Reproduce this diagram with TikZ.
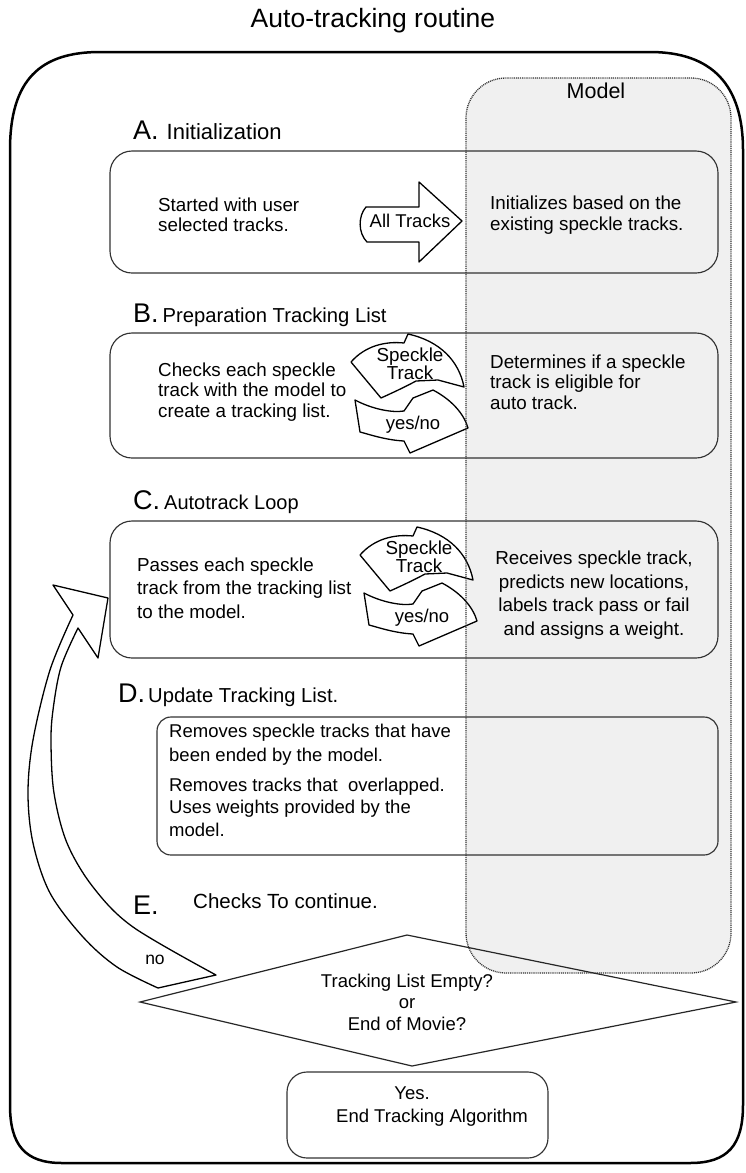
\documentclass[tikz,border=0pt]{standalone}
\usepackage{fontspec}
\setmainfont{Liberation Sans}
\begin{document}
\begin{tikzpicture}[x=1pt,y=-1pt,
  bx/.style={draw=black!80, line width=1.15pt, rounded corners=22pt, inner sep=0pt},
  blk/.style={draw=black, line width=1.3pt, fill=white, line join=round},
  body/.style={inner sep=0pt, anchor=west, align=left, font=\fontsize{18.8}{20.5}\selectfont},
  bodyc/.style={inner sep=0pt, align=center, font=\fontsize{18.8}{23.5}\selectfont},
  head/.style={inner sep=0pt, anchor=base west},
]
\useasboundingbox (0,0) rectangle (746,1173);
\fill[white] (0,0) rectangle (746,1173);
% model region fill
\path[fill=black!6, rounded corners=40pt] (466,78) rectangle (731,973);
% outer border
\draw[line width=2.5pt] (10,150) .. controls (10,80) and (40,52) .. (100,52) -- (650,52) .. controls (712,52) and (743,85) .. (743,150) -- (743,1105) .. controls (743,1145) and (728,1163) .. (690,1163) -- (62,1163) .. controls (25,1163) and (10,1145) .. (10,1105) -- cycle;

\node[inner sep=0pt, font=\fontsize{26.5}{26}\selectfont] (title) at (373,21) {Auto-tracking routine};
\node[inner sep=0pt, font=\fontsize{21.5}{21}\selectfont] (model) at (596,91) {Model};

% boxes
\node[bx, minimum width=608pt, minimum height=122pt] (boxA) at (414,212) {};
\node[bx, minimum width=608pt, minimum height=125pt] (boxB) at (414,395.5) {};
\node[bx, minimum width=608pt, minimum height=137pt] (boxC) at (414,589.5) {};
\node[bx, rounded corners=14pt, minimum width=561pt, minimum height=138pt] (boxD) at (437.5,786) {};
\node[bx, rounded corners=20pt, minimum width=261pt, minimum height=86pt] (boxEnd) at (417.5,1115) {};

% headings
\node[head] (hA) at (133,139) {\fontsize{27}{27}\selectfont A.\hspace{8pt}\fontsize{22}{22}\selectfont Initialization};
\node[head] (hB) at (133,322) {\fontsize{27}{27}\selectfont B.\hspace{4pt}\fontsize{20.2}{20}\selectfont Preparation Tracking List};
\node[head] (hC) at (133,509) {\fontsize{27}{27}\selectfont C.\hspace{4pt}\fontsize{20}{20}\selectfont Autotrack Loop};
\node[head] (hD) at (118,702) {\fontsize{27}{27}\selectfont D.\hspace{3pt}\fontsize{20.2}{20}\selectfont Update Tracking List.};
\node[head] (hE) at (133,914) {\fontsize{27}{27}\selectfont E.};
\node[head, font=\fontsize{20.5}{20}\selectfont] (hE2) at (193,908) {Checks To continue.};

% box texts
\node[body] (tA1) at (158,215) {Started with user\\selected tracks.};
\node[body] (tA2) at (490,215) {Initializes based on the\\existing speckle tracks.};
\node[body] (tB1) at (158,392) {Checks each speckle\\track with the model to\\create a tracking list.};
\node[body] (tB2) at (490,382) {Determines if a speckle\\track is eligible for\\auto track.};
\node[body, font=\fontsize{18.8}{23.5}\selectfont] (tC1) at (137,588) {Passes each speckle\\track from the tracking list\\to the model.};
\node[bodyc] (tC2) at (594,595) {Receives speckle track,\\predicts new locations,\\labels track pass or fail\\and assigns a weight.};
\node[body, font=\fontsize{18.5}{24}\selectfont] (tD1) at (169,745) {Removes speckle tracks that have\\been ended by the model.};
\node[body, font=\fontsize{18.5}{22.5}\selectfont] (tD2) at (169,807) {Removes tracks that\ \ overlapped.\\Uses weights provided by the\\model.};

% All Tracks arrow
\draw[blk] (366,207) -- (419,207) -- (419,182) -- (462,221) -- (419,262) -- (419,242) -- (367,242) .. controls (358,233) and (358,216) .. (366,207) -- cycle;
\node[inner sep=0pt, font=\fontsize{18.5}{18}\selectfont] (allt) at (410,221) {All Tracks};

% circular arrows B and C
\foreach \dx/\dy/\nm in {0/0/B, 9/193/C} {
\begin{scope}[shift={(\dx,\dy)}]
\draw[blk] (355,400) .. controls (372,409) and (392,413) .. (404,411) -- (413,398) -- (433,390) .. controls (452,400) and (464,414) .. (468,428) -- (410,453) -- (404,441) .. controls (385,440) and (368,434) .. (360,432) -- cycle;
\draw[blk] (351,362) .. controls (365,346) and (385,341) .. (404,343) -- (408,334) .. controls (440,341) and (459,361) .. (464,387) -- (438,380) -- (416,381) .. controls (405,387) and (392,393) .. (381,398) -- cycle;
\node[inner sep=0pt, align=center, font=\fontsize{18.8}{17}\selectfont] (spk\nm) at (410,364) {Speckle\\Track};
\node[inner sep=0pt, font=\fontsize{18.5}{18}\selectfont] (yn\nm) at (413,425) {yes/no};
\end{scope}
}

% diamond
\coordinate (dL) at (140,1002);
\coordinate (dT) at (407,935);
\coordinate (dR) at (736,1002);
\coordinate (dB) at (412,1066);
\draw[line width=1.2pt, black!85] (dL) -- (dT) -- (dR) -- (dB) -- cycle;
\node[inner sep=0pt, align=center, font=\fontsize{18.5}{21.5}\selectfont] (dtext) at (407,1002) {Tracking List Empty?\\or\\End of Movie?};

% big curved "no" arrow
\draw[blk] (108,598) -- (53,585) -- plot[smooth, tension=0.55] coordinates {(73,615) (50,670) (33,740) (28,793) (33,843) (50,893) (83,937) (117,967) (158,988)} -- (216,975) -- plot[smooth, tension=0.55] coordinates {(216,975) (133,927) (93,887) (67,843) (54,793) (51,743) (53,710) (61,667) (78,628)} -- (98,658) -- cycle;
\node[inner sep=0pt, font=\fontsize{17.5}{17}\selectfont] (no) at (155,960) {no};

% end box text
\node[inner sep=0pt, font=\fontsize{18.5}{18}\selectfont] (yes) at (412,1093) {Yes.};
\node[inner sep=0pt, font=\fontsize{18.5}{18}\selectfont] (endt) at (432,1118) {End Tracking Algorithm};

% model dotted border
\draw[black!80, line width=1.3pt, dash pattern=on 1pt off 0.9pt, rounded corners=40pt] (466,78) rectangle (731,973);
\end{tikzpicture}
\end{document}
